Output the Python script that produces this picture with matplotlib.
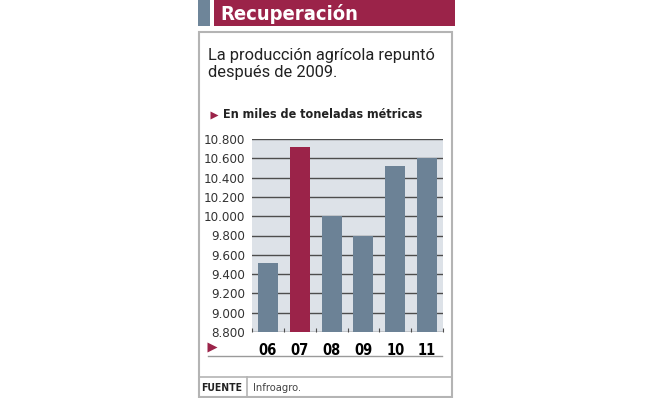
import numpy as np
import matplotlib.pyplot as plt
from matplotlib.patches import Rectangle
from matplotlib.lines import Line2D
from matplotlib.ticker import FuncFormatter, FixedLocator

# datos
years = ["06", "07", "08", "09", "10", "11"]
produccion = [9520, 10720, 10000, 9790, 10525, 10605]
destacado = "07"

title = "Recuperación"
subtitle = "La producción agrícola repuntó\ndespués de 2009."
unidad = "En miles de toneladas métricas"
fuente = "Infroagro."

MAROON = "#9b2349"
BLUEGRAY = "#6c8296"
PLOTBG = "#dde2e8"
GRID = "#4d4d4d"
BORDER = "#b4b4b4"

W, H = 653, 398
fig = plt.figure(figsize=(W / 100, H / 100), dpi=100)

NARROW = dict(family="DejaVu Sans", stretch="condensed")

# capa de fondo en pixeles
bg = fig.add_axes([0, 0, 1, 1], zorder=0)
bg.set_xlim(0, W)
bg.set_ylim(H, 0)
bg.axis("off")

bg.add_patch(Rectangle((198, 0), 12, 26, color="#6e8599", lw=0))
bg.add_patch(Rectangle((214, 0), 241, 26, color=MAROON, lw=0))
bg.text(220, 14, title, color="white", fontsize=14.5, fontweight="bold",
        va="center", ha="left", **NARROW)

bg.add_patch(Rectangle((199, 32), 253, 365, fill=False, ec=BORDER, lw=1.5))
bg.text(208, 64, subtitle, fontsize=11.8, family=["Roboto", "DejaVu Sans"],
        va="center", ha="left", color="#222222", linespacing=1.15)

bg.plot([214], [115], marker=">", color=MAROON, markersize=6, mec="none")
bg.text(223, 115, unidad, fontsize=9, fontweight="bold",
        va="center", ha="left", color="#222222", **NARROW)

bg.plot([212], [347], marker=">", color=MAROON, markersize=7, mec="none")
bg.add_line(Line2D([208, 442], [356, 356], color="#9a9a9a", lw=1))

bg.add_line(Line2D([199, 452], [377, 377], color=BORDER, lw=1.2))
bg.add_line(Line2D([247, 247], [377, 397], color=BORDER, lw=1.2))
bg.text(201, 388, "FUENTE", fontsize=7.5, fontweight="bold",
        va="center", ha="left", color="#222222", **NARROW)
bg.text(253, 388, fuente, fontsize=8, va="center", ha="left",
        color="#444444", **NARROW)

# grafico de barras
x0, x1, y0, y1 = 252, 443, 139, 332
ax = fig.add_axes([x0 / W, 1 - y1 / H, (x1 - x0) / W, (y1 - y0) / H], zorder=1)
x = np.arange(len(years))
colors = [MAROON if y == destacado else BLUEGRAY for y in years]
ax.bar(x, produccion, width=0.63, color=colors, zorder=3)
ax.set_xlim(-0.5, len(years) - 0.5)
ax.set_ylim(8800, 10800)
ax.set_facecolor(PLOTBG)
ax.set_yticks(np.arange(8800, 10801, 200))
ax.yaxis.set_major_formatter(FuncFormatter(lambda v, p: f"{int(v):,}".replace(",", ".")))
ax.yaxis.grid(True, color=GRID, lw=1)
ax.set_axisbelow(True)
for s in ax.spines.values():
    s.set_visible(False)
ax.tick_params(axis="y", length=0, pad=5, labelsize=9.5, labelcolor="#333333")
ax.set_xticks(x, years)
ax.tick_params(axis="x", which="major", length=0, pad=8, labelsize=10.5)
for lab in ax.get_xticklabels():
    lab.set_fontweight("bold")
    lab.set_fontstretch("condensed")
for lab in ax.get_yticklabels():
    lab.set_fontstretch("condensed")
ax.xaxis.set_minor_locator(FixedLocator(np.arange(-0.5, len(years), 1)))
ax.tick_params(axis="x", which="minor", direction="in", length=3, color=GRID, width=0.8)

fig.savefig("out.png", dpi=100)
